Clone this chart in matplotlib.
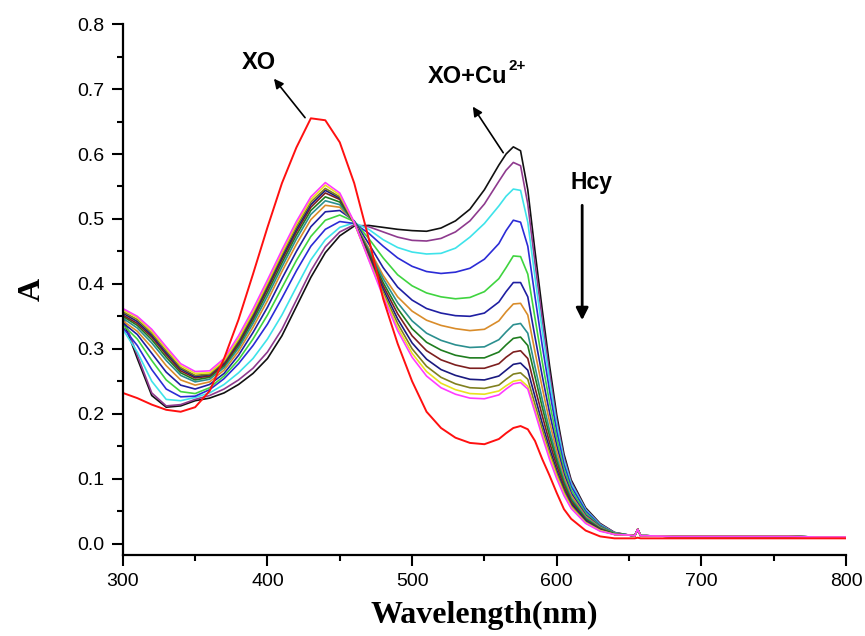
import numpy as np
import matplotlib.pyplot as plt
from matplotlib.ticker import MultipleLocator

# wavelength grid (nm) for the absorbance readings
wl = [300, 310, 320, 330, 340, 350, 360, 370, 380, 390, 400, 410, 420, 430, 440,
      450, 460, 470, 480, 490, 500, 510, 520, 530, 540, 550, 560, 565, 570, 575,
      580, 585, 590, 595, 600, 605, 610, 620, 630, 640]

# flat tail shared by the titration curves (small lamp-change spike near 656 nm)
tail_wl = [650, 654, 656, 658, 662, 680, 700, 720, 740, 760, 780, 800]
tail_abs = [0.013, 0.012, 0.022, 0.012, 0.012, 0.011, 0.011, 0.011, 0.011, 0.011, 0.010, 0.010]
xo_tail = [0.008, 0.008, 0.009, 0.008, 0.008, 0.008, 0.008, 0.008, 0.008, 0.008, 0.008, 0.008]

# XO alone
xo = [0.232, 0.224, 0.214, 0.206, 0.203, 0.210, 0.235, 0.285, 0.345, 0.415, 0.487, 0.555, 0.610, 0.655, 0.652,
      0.618, 0.555, 0.470, 0.377, 0.308, 0.250, 0.203, 0.178, 0.163, 0.155, 0.153, 0.161, 0.170, 0.178, 0.181,
      0.176, 0.158, 0.130, 0.105, 0.078, 0.053, 0.038, 0.020, 0.011, 0.008]

# XO + Cu2+ then increasing Hcy
titration = {
    "#111111": [0.345, 0.285, 0.228, 0.210, 0.212, 0.220, 0.224, 0.232, 0.245, 0.262, 0.285, 0.320, 0.365, 0.410, 0.448,
                0.474, 0.489, 0.490, 0.487, 0.484, 0.482, 0.481, 0.486, 0.497, 0.515, 0.545, 0.583, 0.600, 0.611, 0.605,
                0.545, 0.450, 0.360, 0.275, 0.198, 0.138, 0.098, 0.055, 0.031, 0.017],
    "#8e3a8e": [0.350, 0.290, 0.232, 0.212, 0.214, 0.222, 0.228, 0.238, 0.252, 0.270, 0.295, 0.330, 0.375, 0.420, 0.457,
                0.480, 0.491, 0.488, 0.480, 0.472, 0.467, 0.466, 0.470, 0.480, 0.497, 0.523, 0.558, 0.575, 0.587, 0.582,
                0.523, 0.432, 0.345, 0.263, 0.190, 0.133, 0.095, 0.053, 0.030, 0.017],
    "#3ee3ea": [0.330, 0.295, 0.250, 0.222, 0.220, 0.225, 0.232, 0.245, 0.263, 0.285, 0.315, 0.352, 0.395, 0.437, 0.468,
                0.487, 0.494, 0.484, 0.468, 0.456, 0.449, 0.446, 0.447, 0.455, 0.472, 0.493, 0.520, 0.535, 0.546, 0.544,
                0.495, 0.410, 0.328, 0.252, 0.183, 0.128, 0.092, 0.052, 0.029, 0.016],
    "#2b2bd6": [0.333, 0.305, 0.268, 0.238, 0.226, 0.227, 0.237, 0.254, 0.277, 0.305, 0.338, 0.378, 0.420, 0.458, 0.484,
                0.496, 0.493, 0.478, 0.458, 0.440, 0.427, 0.419, 0.416, 0.418, 0.424, 0.438, 0.462, 0.482, 0.498, 0.495,
                0.458, 0.380, 0.305, 0.236, 0.173, 0.122, 0.088, 0.050, 0.028, 0.016],
    "#3fd43f": [0.337, 0.315, 0.282, 0.252, 0.234, 0.231, 0.240, 0.258, 0.283, 0.315, 0.352, 0.394, 0.436, 0.473, 0.498,
                0.506, 0.496, 0.470, 0.440, 0.414, 0.397, 0.386, 0.380, 0.377, 0.379, 0.388, 0.408, 0.425, 0.443, 0.442,
                0.415, 0.347, 0.280, 0.218, 0.162, 0.115, 0.083, 0.047, 0.027, 0.016],
    "#1f1fa2": [0.340, 0.322, 0.293, 0.264, 0.244, 0.238, 0.245, 0.262, 0.290, 0.325, 0.364, 0.408, 0.450, 0.488, 0.511,
                0.513, 0.497, 0.462, 0.425, 0.395, 0.375, 0.362, 0.355, 0.351, 0.350, 0.355, 0.372, 0.388, 0.402, 0.402,
                0.380, 0.318, 0.258, 0.202, 0.151, 0.108, 0.078, 0.044, 0.026, 0.015],
    "#d98c2a": [0.343, 0.327, 0.302, 0.274, 0.252, 0.244, 0.249, 0.267, 0.296, 0.333, 0.374, 0.419, 0.461, 0.499, 0.521,
                0.518, 0.495, 0.455, 0.413, 0.380, 0.358, 0.344, 0.336, 0.331, 0.328, 0.330, 0.343, 0.357, 0.369, 0.370,
                0.352, 0.295, 0.240, 0.188, 0.142, 0.102, 0.074, 0.042, 0.025, 0.015],
    "#2b8f8f": [0.347, 0.332, 0.309, 0.282, 0.259, 0.249, 0.253, 0.271, 0.301, 0.339, 0.381, 0.426, 0.469, 0.507, 0.528,
                0.522, 0.494, 0.452, 0.408, 0.371, 0.343, 0.324, 0.313, 0.306, 0.302, 0.303, 0.314, 0.326, 0.337, 0.339,
                0.324, 0.272, 0.222, 0.175, 0.133, 0.097, 0.070, 0.040, 0.024, 0.015],
    "#1f7d1f": [0.350, 0.336, 0.314, 0.287, 0.263, 0.252, 0.256, 0.274, 0.305, 0.344, 0.387, 0.432, 0.475, 0.513, 0.534,
                0.526, 0.494, 0.449, 0.402, 0.362, 0.331, 0.310, 0.298, 0.290, 0.286, 0.286, 0.295, 0.306, 0.316, 0.318,
                0.305, 0.257, 0.210, 0.166, 0.127, 0.093, 0.067, 0.038, 0.023, 0.015],
    "#7d1f1f": [0.352, 0.339, 0.318, 0.291, 0.266, 0.255, 0.258, 0.276, 0.308, 0.348, 0.392, 0.437, 0.480, 0.518, 0.540,
                0.530, 0.494, 0.446, 0.397, 0.354, 0.320, 0.297, 0.283, 0.275, 0.270, 0.270, 0.277, 0.287, 0.295, 0.297,
                0.285, 0.240, 0.197, 0.156, 0.120, 0.088, 0.064, 0.036, 0.022, 0.014],
    "#1a1a80": [0.355, 0.342, 0.321, 0.294, 0.269, 0.257, 0.260, 0.278, 0.311, 0.351, 0.396, 0.441, 0.484, 0.522, 0.544,
                0.532, 0.494, 0.443, 0.392, 0.346, 0.309, 0.284, 0.268, 0.259, 0.253, 0.252, 0.258, 0.267, 0.276, 0.278,
                0.267, 0.226, 0.185, 0.147, 0.113, 0.083, 0.061, 0.035, 0.021, 0.014],
    "#80801f": [0.357, 0.345, 0.324, 0.297, 0.271, 0.259, 0.261, 0.280, 0.313, 0.354, 0.399, 0.445, 0.488, 0.526, 0.547,
                0.534, 0.494, 0.440, 0.387, 0.339, 0.300, 0.273, 0.256, 0.246, 0.240, 0.239, 0.244, 0.253, 0.261, 0.263,
                0.253, 0.214, 0.176, 0.140, 0.108, 0.080, 0.058, 0.033, 0.020, 0.014],
    "#e8e21f": [0.360, 0.348, 0.327, 0.300, 0.274, 0.262, 0.263, 0.282, 0.316, 0.357, 0.402, 0.448, 0.492, 0.530, 0.552,
                0.537, 0.494, 0.438, 0.383, 0.333, 0.293, 0.265, 0.247, 0.237, 0.231, 0.230, 0.235, 0.243, 0.250, 0.252,
                0.242, 0.206, 0.169, 0.135, 0.104, 0.077, 0.056, 0.032, 0.020, 0.014],
    "#ff3cff": [0.362, 0.350, 0.330, 0.303, 0.277, 0.265, 0.266, 0.285, 0.320, 0.361, 0.406, 0.452, 0.496, 0.534, 0.556,
                0.540, 0.495, 0.437, 0.380, 0.328, 0.287, 0.258, 0.240, 0.230, 0.224, 0.223, 0.229, 0.238, 0.246, 0.248,
                0.238, 0.202, 0.165, 0.130, 0.100, 0.074, 0.054, 0.031, 0.019, 0.014],
}

plt.rcParams["font.family"] = ["Liberation Sans", "DejaVu Sans"]

fig = plt.figure(figsize=(8.65, 6.36), dpi=100)
ax = fig.add_axes([0.142, 0.127, 0.836, 0.835])

for color, vals in titration.items():
    ax.plot(wl + tail_wl, vals + tail_abs, color=color, lw=1.2)
ax.plot(wl + tail_wl, xo + xo_tail, color="#ff1010", lw=1.4)

ax.set_xlim(300, 800)
ax.set_ylim(-0.018, 0.8)
ax.xaxis.set_major_locator(MultipleLocator(100))
ax.xaxis.set_minor_locator(MultipleLocator(50))
ax.yaxis.set_major_locator(MultipleLocator(0.1))
ax.yaxis.set_minor_locator(MultipleLocator(0.05))
ax.yaxis.set_major_formatter(plt.FormatStrFormatter("%.1f"))

for side in ["top", "right"]:
    ax.spines[side].set_visible(False)
for side in ["left", "bottom"]:
    ax.spines[side].set_linewidth(1.6)
ax.tick_params(which="major", direction="out", length=8, width=1.5, labelsize=14, pad=5)
ax.tick_params(which="minor", direction="out", length=4.5, width=1.5)

ax.set_xlabel("Wavelength(nm)", family="Liberation Serif", fontweight="bold", fontsize=23, labelpad=8)
ax.set_ylabel("A", family="Liberation Serif", fontweight="bold", fontsize=23, labelpad=22)

arrow = dict(arrowstyle="-|>", color="k", lw=1.2, mutation_scale=14, shrinkA=0, shrinkB=0)

ax.text(394, 0.741, "XO", ha="center", va="center", fontsize=17, fontweight="bold")
ax.annotate("", xy=(404.5, 0.716), xytext=(426, 0.656), arrowprops=arrow)

t1 = ax.text(511, 0.71, "XO+Cu", ha="left", va="baseline", fontsize=17, fontweight="bold")
ax.annotate("2+", xy=(1, 1), xycoords=t1, xytext=(1, -6), textcoords="offset points",
            ha="left", va="bottom", fontsize=11, fontweight="bold")
ax.annotate("", xy=(542, 0.673), xytext=(563, 0.602), arrowprops=arrow)

ax.text(624, 0.556, "Hcy", ha="center", va="center", fontsize=16.5, fontweight="bold")
ax.annotate("", xy=(617.6, 0.344), xytext=(617.6, 0.521),
            arrowprops=dict(arrowstyle="-|>", color="k", lw=2, mutation_scale=18, shrinkA=0, shrinkB=0))

fig.savefig("out.png", dpi=100)
